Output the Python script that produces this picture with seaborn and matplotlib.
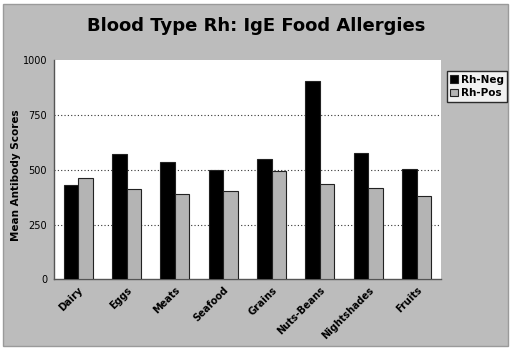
import matplotlib
matplotlib.use("Agg")
import matplotlib.pyplot as plt
from matplotlib.patches import Rectangle
import seaborn as sns
import pandas as pd
import numpy as np

categories = ["Dairy", "Eggs", "Meats", "Seafood", "Grains",
              "Nuts-Beans", "Nightshades", "Fruits"]
rh_neg = [429, 573, 535, 498, 551, 905, 574, 505]
rh_pos = [461, 414, 389, 405, 496, 434, 417, 379]
series = ["Rh-Neg", "Rh-Pos"]
y_ticks = [0, 250, 500, 750, 1000]

df = pd.DataFrame({
    "Food": categories * 2,
    "Score": rh_neg + rh_pos,
    "Group": [series[0]] * len(categories) + [series[1]] * len(categories),
})

sns.set_theme(style="white")
plt.rcParams["font.family"] = ["DejaVu Sans"]
plt.rcParams["text.color"] = "black"
plt.rcParams["axes.labelcolor"] = "black"
plt.rcParams["xtick.color"] = "black"
plt.rcParams["ytick.color"] = "black"

bg = "#bcbcbc"
fig = plt.figure(figsize=(5.12, 3.5), dpi=100)
fig.patch.set_facecolor("white")
# chart frame
fig.patches.append(Rectangle((0.006, 0.012), 0.986, 0.978, transform=fig.transFigure,
                             facecolor=bg, edgecolor="#9a9a9a", linewidth=1.0, zorder=-1))

ax = fig.add_axes([0.1055, 0.2017, 0.7555, 0.6269])
ax.set_facecolor("white")

sns.barplot(data=df, x="Food", y="Score", hue="Group", order=categories,
            hue_order=series, palette=["#000000", "#b4b4b4"], width=0.6,
            edgecolor="#222222", linewidth=0.8, ax=ax, zorder=3)

ax.set_ylim(0, 1000)
ax.set_xlim(-0.5, len(categories) - 0.5)
ax.set_yticks(y_ticks)
ax.set_yticklabels([str(t) for t in y_ticks], fontsize=7)
for t in y_ticks[1:-1]:
    ax.axhline(t, color="#333333", linestyle=(0, (1, 2)), linewidth=0.8, zorder=1)

# category boundary ticks on x axis
ax.set_xticks(np.arange(len(categories)))
ax.set_xticklabels(categories, rotation=45, ha="right", rotation_mode="anchor",
                   fontsize=7, fontweight="bold")
ax.tick_params(axis="x", length=0, pad=4)
ax.set_xticks(np.arange(-0.5, len(categories), 1.0), minor=True)
ax.tick_params(axis="x", which="minor", direction="out", length=3, width=0.8, color="#333333")
ax.tick_params(axis="y", direction="out", length=3, width=0.8, color="#333333", pad=2)

for side in ["top", "right"]:
    ax.spines[side].set_visible(False)
for side in ["left", "bottom"]:
    ax.spines[side].set_color("#555555")
    ax.spines[side].set_linewidth(1.0)

ax.set_xlabel("")
ax.set_ylabel("Mean Antibody Scores", fontsize=7.5, fontweight="bold")
ax.yaxis.set_label_coords(21 / 512, 0.5, transform=fig.transFigure)

leg = ax.legend(loc="upper left", bbox_to_anchor=(1.015, 0.95), frameon=True,
                fancybox=False, fontsize=7.5, handlelength=0.7, handleheight=0.7,
                handletextpad=0.3, borderpad=0.35, labelspacing=0.35, borderaxespad=0)
leg.get_frame().set_edgecolor("#000000")
leg.get_frame().set_linewidth(1.0)
for txt in leg.get_texts():
    txt.set_fontweight("bold")
    txt.set_color("black")

fig.text(0.5, 0.925, "Blood Type Rh: IgE Food Allergies", ha="center", va="center",
         fontsize=13, fontweight="bold", color="black")

fig.savefig("out.png", dpi=100, facecolor=fig.get_facecolor())
